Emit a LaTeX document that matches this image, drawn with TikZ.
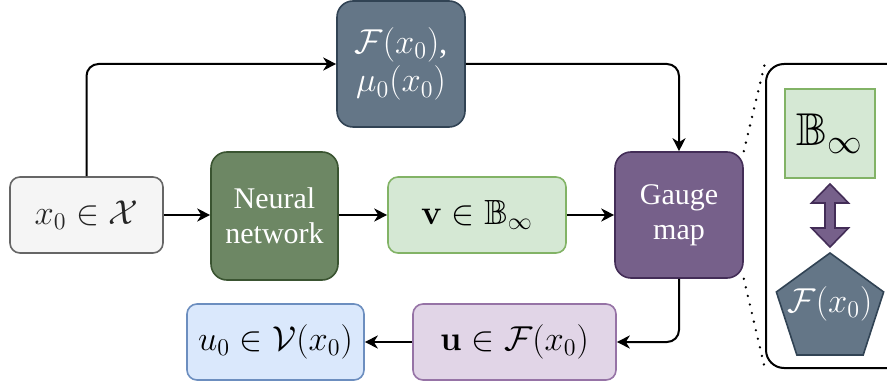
\documentclass[tikz,border=0pt]{standalone}
\usepackage[no-math]{fontspec}
\setmainfont{Liberation Serif}
\newfontfamily\timesfont{Liberation Serif}
\usepackage{amsmath,amssymb}
\usetikzlibrary{arrows.meta,shapes.geometric}
\definecolor{cGrayF}{HTML}{F5F5F5}
\definecolor{cGrayS}{HTML}{666666}
\definecolor{cGreenDF}{HTML}{6D8764}
\definecolor{cGreenDS}{HTML}{3A5431}
\definecolor{cGreenLF}{HTML}{D5E8D4}
\definecolor{cGreenLS}{HTML}{82B366}
\definecolor{cPurpDF}{HTML}{76608A}
\definecolor{cPurpDS}{HTML}{432D57}
\definecolor{cPurpLF}{HTML}{E1D5E7}
\definecolor{cPurpLS}{HTML}{9673A6}
\definecolor{cSlateF}{HTML}{647687}
\definecolor{cSlateS}{HTML}{314354}
\definecolor{cBlueF}{HTML}{DAE8FC}
\definecolor{cBlueS}{HTML}{6C8EBF}
\tikzset{
  box/.style={draw, rounded corners=5pt, line width=0.8pt, inner sep=0pt, align=center},
  mathfont/.style={font=\fontsize{17.5}{20}\selectfont},
  textfont/.style={font=\timesfont\fontsize{15}{17.5}\selectfont},
  conn/.style={line width=1pt, -{Stealth[length=6.5pt,width=6.5pt,inset=2pt]}, rounded corners=6pt},
  dotline/.style={line width=1.3pt, line cap=round, dash pattern=on 0pt off 4.4pt},
}
\begin{document}
\begin{tikzpicture}[x=0.5pt,y=-0.5pt]
\useasboundingbox (0,0) rectangle (887,384);
\clip (0,0) rectangle (887,384);
% main nodes
\node[box, mathfont, fill=cGrayF, draw=cGrayS, text=black!85, minimum width=76.5pt, minimum height=38pt] (x0) at (86.5,215) {$x_0\in\mathcal{X}$};
\node[box, textfont, fill=cGreenDF, draw=cGreenDS, text=white, rounded corners=8pt, minimum width=63.5pt, minimum height=64pt] (nn) at (274.5,216) {Neural\\network};
\node[box, mathfont, fill=cGreenLF, draw=cGreenLS, text=black, minimum width=89pt, minimum height=38pt] (v) at (477,215) {$\mathbf{v}\in\mathbb{B}_\infty$};
\node[box, textfont, fill=cPurpDF, draw=cPurpDS, text=white, rounded corners=8pt, minimum width=64pt, minimum height=63pt] (gauge) at (679,215) {Gauge\\map};
\node[box, font=\fontsize{16.5}{17}\selectfont, fill=cSlateF, draw=cSlateS, text=white, rounded corners=8pt, minimum width=64pt, minimum height=63pt] (fbox) at (401,64) {$\mathcal{F}(x_0)$,\\[1pt]$\mu_0(x_0)$};
\node[box, mathfont, fill=cPurpLF, draw=cPurpLS, text=black, minimum width=101.5pt, minimum height=38pt] (u) at (514.5,342) {$\mathbf{u}\in\mathcal{F}(x_0)$};
\node[box, mathfont, fill=cBlueF, draw=cBlueS, text=black, minimum width=88.5pt, minimum height=38pt] (u0) at (275.5,342) {$u_0\in\mathcal{V}(x_0)$};
% side panel
\node[draw, line width=1pt, rounded corners=9pt, minimum width=70pt, minimum height=152pt, inner sep=0pt] (panel) at (836,216) {};
\node[draw=cGreenLS, fill=cGreenLF, line width=0.9pt, inner sep=0pt, minimum width=45pt, minimum height=44.5pt, font=\fontsize{23}{25}\selectfont] (binf) at (830,133.5) {$\mathbb{B}_\infty$};
\node[regular polygon, regular polygon sides=5, draw=cSlateS, fill=cSlateF, line width=0.8pt, inner sep=0pt, minimum size=56.4pt] (pent) at (830,309.4) {};
\node[text=white, font=\fontsize{18}{19}\selectfont, inner sep=0pt] (pentlbl) at (830,304) {$\mathcal{F}(x_0)$};
% double arrow
\draw[fill=cPurpDF, draw=cPurpDS, line width=0.8pt, line join=miter]
  (830,184) -- (848.5,203) -- (835,203) -- (835,228) -- (848.5,228) -- (830,247)
  -- (811.5,228) -- (825,228) -- (825,203) -- (811.5,203) -- cycle;
% connectors
\draw[conn] (x0.north) |- (fbox.west);
\draw[conn] (fbox.east) -| (gauge.north);
\draw[conn] (x0.east) -- (nn.west |- x0.east);
\draw[conn] (nn.east |- v.west) -- (v.west);
\draw[conn] (v.east) -- (gauge.west |- v.east);
\draw[conn] (gauge.south) |- (u.east);
\draw[conn] (u.west) -- (u0.east);
% dotted zoom lines
\draw[dotline] (gauge.north east) -- (panel.north west);
\draw[dotline] (gauge.south east) -- (panel.south west);
\end{tikzpicture}
\end{document}
